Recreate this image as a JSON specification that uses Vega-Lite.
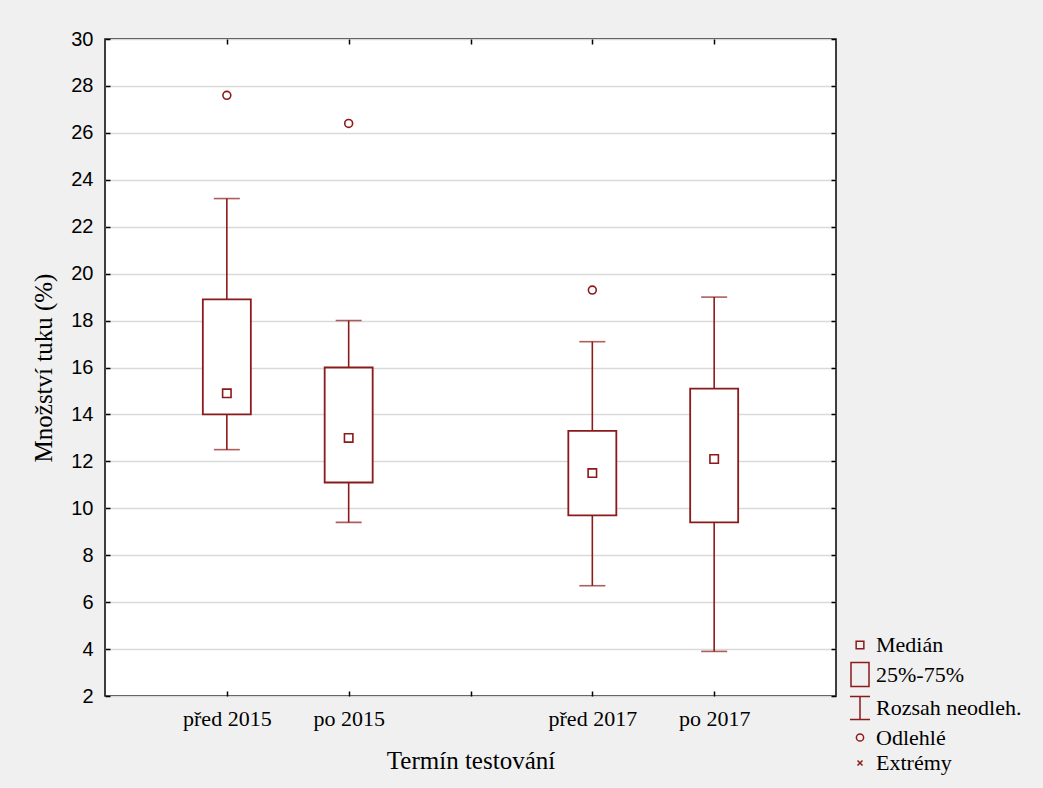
{
  "$schema": "https://vega.github.io/schema/vega-lite/v6.json",
  "width": 731,
  "height": 657,
  "autosize": "none",
  "padding": {"left": 105, "top": 39, "right": 207, "bottom": 92},
  "background": "#f0f0f0",
  "config": {
    "view": {"fill": "white", "stroke": "black", "strokeWidth": 1.5},
    "axis": {
      "domain": false,
      "tickColor": "black",
      "tickSize": -5,
      "tickWidth": 1.5,
      "labelColor": "black",
      "titleColor": "black",
      "titleFontWeight": "normal",
      "gridColor": "#d9d9d9",
      "gridWidth": 1.5
    }
  },
  "datasets": {
    "boxes": [
      {"termin": "před 2015", "min": 12.5, "q1": 14.0, "median": 14.9, "q3": 18.9, "max": 23.2},
      {"termin": "po 2015", "min": 9.4, "q1": 11.1, "median": 13.0, "q3": 16.0, "max": 18.0},
      {"termin": "před 2017", "min": 6.7, "q1": 9.7, "median": 11.5, "q3": 13.3, "max": 17.1},
      {"termin": "po 2017", "min": 3.9, "q1": 9.4, "median": 12.1, "q3": 15.1, "max": 19.0}
    ],
    "points": [
      {"termin": "před 2015", "hodnota": 14.9, "typ": "Medián"},
      {"termin": "po 2015", "hodnota": 13.0, "typ": "Medián"},
      {"termin": "před 2017", "hodnota": 11.5, "typ": "Medián"},
      {"termin": "po 2017", "hodnota": 12.1, "typ": "Medián"},
      {"termin": "před 2015", "hodnota": 27.6, "typ": "Odlehlé"},
      {"termin": "po 2015", "hodnota": 26.4, "typ": "Odlehlé"},
      {"termin": "před 2017", "hodnota": 19.3, "typ": "Odlehlé"}
    ]
  },
  "resolve": {"axis": {"x": "independent", "y": "independent"}},
  "layer": [
    {
      "data": {"name": "boxes"},
      "mark": {"type": "rule", "color": "#8b1a1a", "strokeWidth": 1.6},
      "encoding": {
        "x": {
          "field": "termin", "type": "nominal",
          "scale": {"type": "point", "domain": ["před 2015", "po 2015", " ", "před 2017", "po 2017"], "padding": 1},
          "axis": {
            "orient": "bottom", "labelAngle": 0, "labelFont": "Liberation Serif", "labelFontSize": 22,
            "labelPadding": 17, "title": "Termín testování", "titleFont": "Liberation Serif",
            "titleFontSize": 25, "titlePadding": 19, "grid": false
          }
        },
        "y": {
          "field": "min", "type": "quantitative",
          "scale": {"domain": [2, 30], "nice": false, "zero": false},
          "axis": {
            "orient": "left", "values": [2,4,6,8,10,12,14,16,18,20,22,24,26,28,30],
            "labelFont": "Liberation Sans", "labelFontSize": 20, "labelPadding": 17,
            "grid": true, "title": "Množství tuku (%)", "titleFont": "Liberation Serif",
            "titleFontSize": 25, "titlePadding": 14
          }
        },
        "y2": {"field": "q1"}
      }
    },
    {
      "data": {"name": "boxes"},
      "mark": {"type": "rule", "color": "#8b1a1a", "strokeWidth": 1.6},
      "encoding": {
        "x": {
          "field": "termin", "type": "nominal",
          "axis": {"orient": "top", "labels": false, "title": null, "grid": false}
        },
        "y": {
          "field": "q3", "type": "quantitative",
          "axis": {"orient": "right", "values": [2,4,6,8,10,12,14,16,18,20,22,24,26,28,30], "labels": false, "title": null, "grid": false}
        },
        "y2": {"field": "max"}
      }
    },
    {
      "data": {"name": "boxes"},
      "mark": {"type": "bar", "width": 48, "fill": "white", "stroke": "#8b1a1a", "strokeWidth": 1.8},
      "encoding": {
        "x": {"field": "termin", "type": "nominal", "axis": null},
        "y": {"field": "q1", "type": "quantitative", "axis": null},
        "y2": {"field": "q3"}
      }
    },
    {
      "data": {"name": "boxes"},
      "mark": {"type": "tick", "orient": "horizontal", "size": 26, "thickness": 1.6, "color": "#8b1a1a"},
      "encoding": {
        "x": {"field": "termin", "type": "nominal", "axis": null},
        "y": {"field": "min", "type": "quantitative", "axis": null}
      }
    },
    {
      "data": {"name": "boxes"},
      "mark": {"type": "tick", "orient": "horizontal", "size": 26, "thickness": 1.6, "color": "#8b1a1a"},
      "encoding": {
        "x": {"field": "termin", "type": "nominal", "axis": null},
        "y": {"field": "max", "type": "quantitative", "axis": null}
      }
    },
    {
      "data": {"name": "points"},
      "mark": {"type": "point", "filled": false, "size": 120, "strokeWidth": 1.6, "color": "#8b1a1a", "opacity": 1},
      "encoding": {
        "x": {"field": "termin", "type": "nominal", "axis": null},
        "y": {"field": "hodnota", "type": "quantitative", "axis": null},
        "shape": {
          "field": "typ", "type": "nominal",
          "scale": {
            "domain": ["Medián", "25%-75%", "Rozsah neodleh.", "Odlehlé", "Extrémy"],
            "range": [
              "M-0.77,-0.77H0.77V0.77H-0.77Z",
              "M-1.8,-2.4H1.8V2.4H-1.8Z",
              "M-2,-2.3H2M0,-2.3V2.3M-2,2.3H2",
              "M0.72,0A0.72,0.72,0,1,1,-0.72,0A0.72,0.72,0,1,1,0.72,0Z",
              "M-0.5,-0.5L0.5,0.5M-0.5,0.5L0.5,-0.5"
            ]
          },
          "legend": {
            "title": null, "orient": "none", "legendX": 744, "legendY": 595,
            "labelFont": "Liberation Serif", "labelFontSize": 22, "labelColor": "black",
            "symbolSize": 100, "symbolStrokeColor": "#8b1a1a", "symbolFillColor": "transparent",
            "symbolStrokeWidth": 1.5, "symbolOpacity": 1, "labelOffset": 5, "rowPadding": 3.5, "padding": 0
          }
        }
      }
    }
  ]
}
